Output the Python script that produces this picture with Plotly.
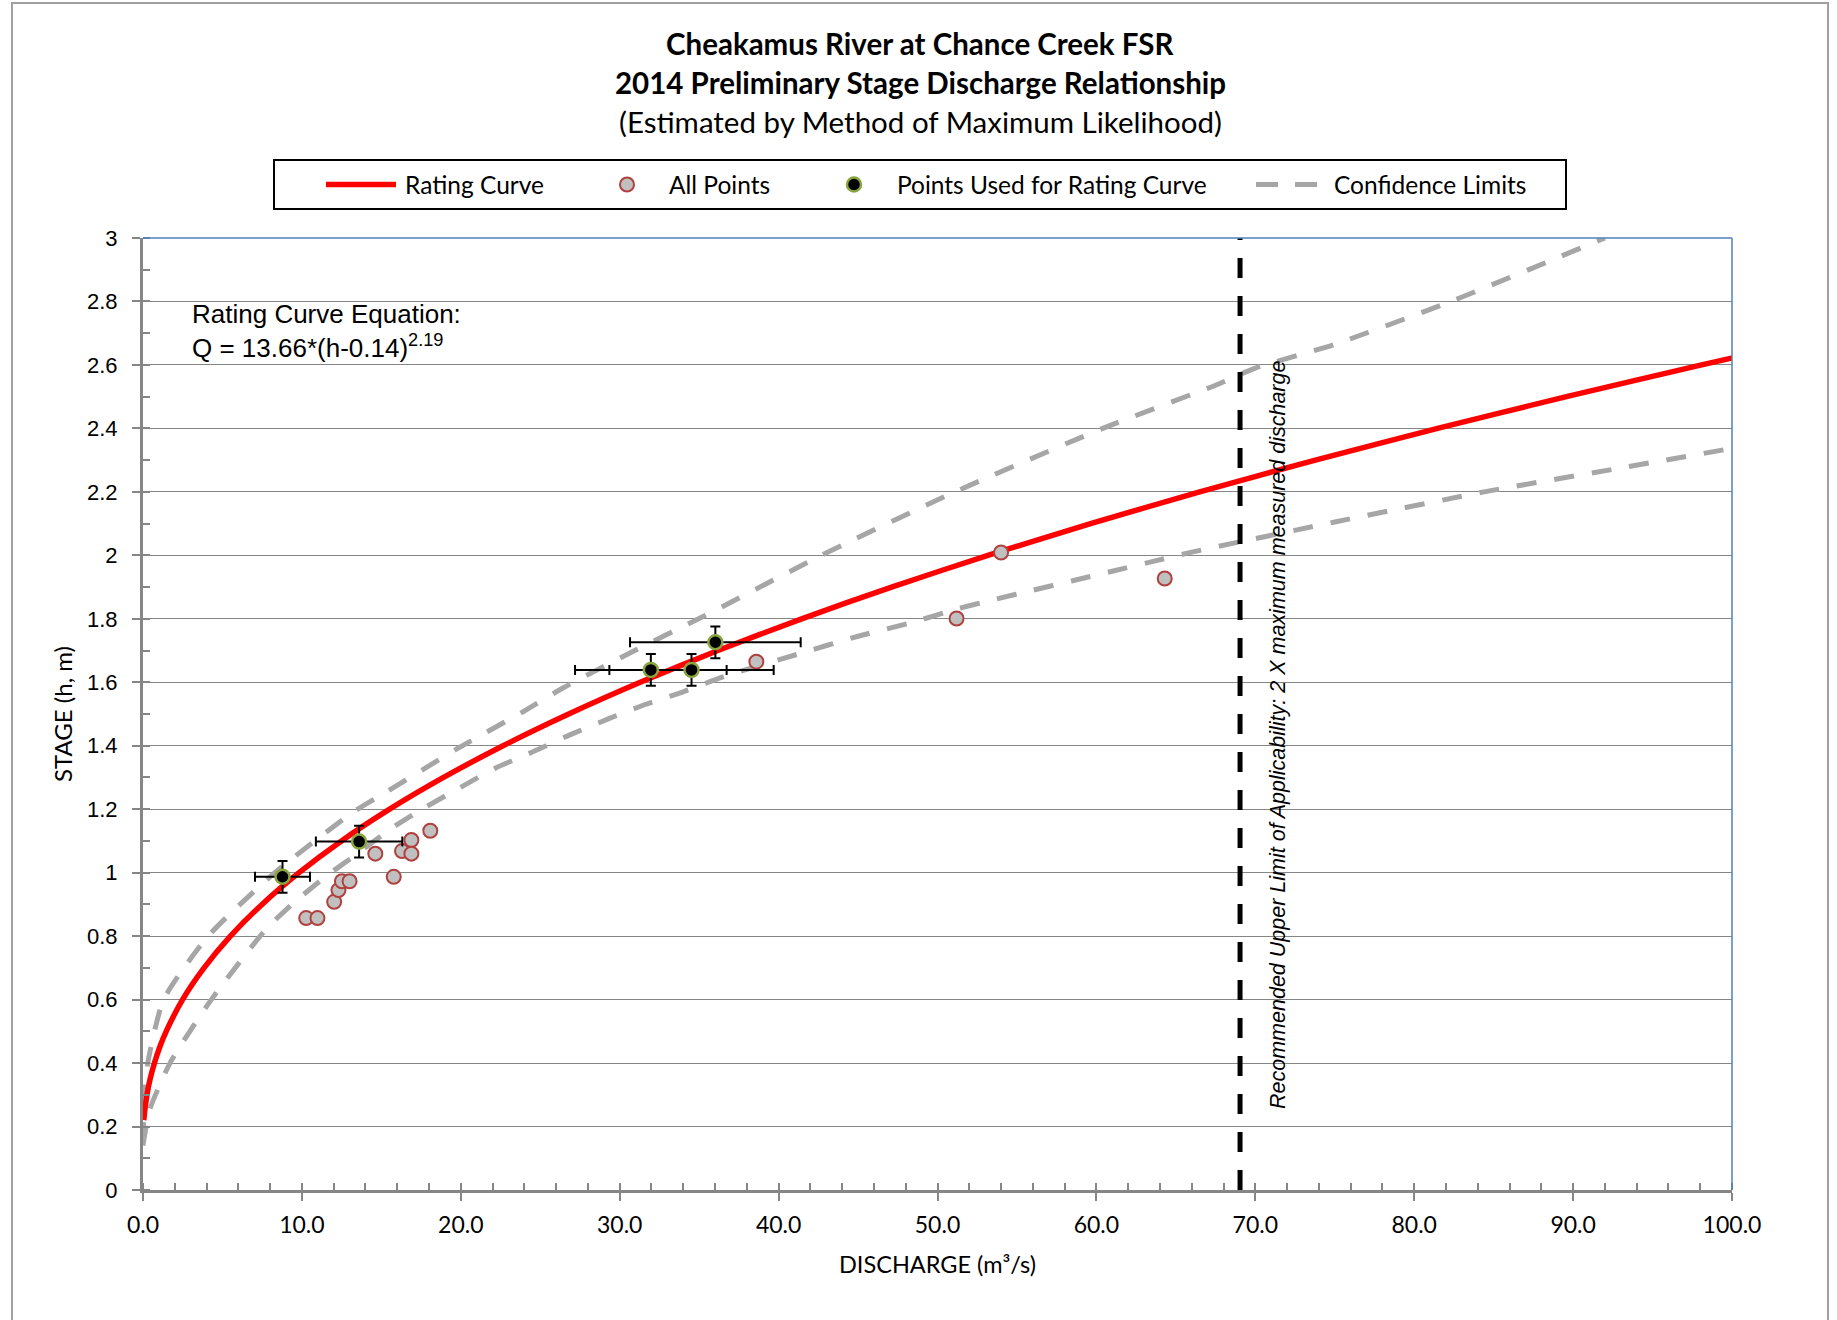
import plotly.graph_objects as go

# ---------------- data ----------------
rating_q = [0.05, 0.11, 0.25, 0.45, 0.72, 1.05, 1.46, 2.49, 3.84, 5.50, 7.49, 9.82, 12.49,
            15.52, 18.91, 22.66, 26.79, 31.29, 36.18, 41.45, 47.11, 53.17, 59.63, 66.50,
            73.78, 81.47, 89.58, 98.09, 100.7]
rating_h = [0.22, 0.25, 0.30, 0.35, 0.40, 0.45, 0.50, 0.60, 0.70, 0.80, 0.90, 1.00, 1.10,
            1.20, 1.30, 1.40, 1.50, 1.60, 1.70, 1.80, 1.90, 2.00, 2.10, 2.20,
            2.30, 2.40, 2.50, 2.60, 2.63]

cl_upper_q = [0.0, 0.1, 0.3, 1.3, 4.1, 8.3, 13.2, 15.4, 19.75, 23.95, 26.4, 30.7, 35.25,
              42.7, 51.1, 60.4, 67.7, 70.0, 75.0, 82.3, 92.0]
cl_upper_h = [0.15, 0.30, 0.40, 0.60, 0.80, 1.00, 1.19, 1.257, 1.39, 1.508, 1.581, 1.694, 1.807,
              2.00, 2.20, 2.40, 2.54, 2.59, 2.665, 2.80, 3.00]

cl_lower_q = [0.0, 0.4, 1.7, 4.3, 7.8, 9.6, 11.55, 13.5, 15.65, 17.8, 19.95, 22.2, 24.5,
              26.9, 29.2, 31.6, 34.0, 36.5, 41.3, 45.0, 48.5, 51.0, 53.5, 56.0, 58.5,
              61.0, 63.5, 66.0, 75.0, 84.4, 93.2, 100.0]
cl_lower_h = [0.14, 0.25, 0.40, 0.60, 0.825, 0.91, 0.99, 1.06, 1.14, 1.207, 1.268, 1.33, 1.38,
              1.435, 1.483, 1.53, 1.57, 1.617, 1.69, 1.745, 1.79, 1.828, 1.86, 1.89, 1.92,
              1.95, 1.98, 2.01, 2.105, 2.20, 2.277, 2.337]

all_q = [10.27, 10.98, 12.03, 12.30, 12.52, 13.00, 14.62, 15.78, 16.30, 16.89, 16.89, 18.08,
         38.60, 51.20, 54.00, 64.30]
all_h = [0.857, 0.857, 0.908, 0.945, 0.973, 0.973, 1.060, 0.987, 1.068, 1.103, 1.060, 1.132,
         1.665, 1.801, 2.009, 1.927]

used_q = [8.78, 13.60, 31.96, 34.52, 36.02]
used_h = [0.987, 1.098, 1.639, 1.639, 1.726]
used_q_err = [1.73, 2.72, 4.77, 5.17, 5.37]
used_h_err = [0.05, 0.05, 0.05, 0.05, 0.05]

upper_limit_q = 69.04   # 2 X maximum measured discharge
limit_h = [0, 3]

x_ticks = [0, 10, 20, 30, 40, 50, 60, 70, 80, 90, 100]

# ---------------- styling ----------------
GRID = "#868686"
CAL = "Lato"
ARIAL = "Liberation Sans"

fig = go.Figure()

fig.add_trace(go.Scatter(x=cl_upper_q, y=cl_upper_h, mode="lines", name="Confidence Limits",
                         line=dict(color="#a6a6a6", width=5, dash="20px,18px", shape="spline",
                                   smoothing=0.6), showlegend=False))
fig.add_trace(go.Scatter(x=cl_lower_q, y=cl_lower_h, mode="lines", name="Confidence Limits",
                         line=dict(color="#a6a6a6", width=5, dash="20px,18px", shape="spline",
                                   smoothing=0.6), showlegend=False))
fig.add_trace(go.Scatter(x=rating_q, y=rating_h, mode="lines", name="Rating Curve",
                         line=dict(color="#ff0000", width=5.5, shape="spline", smoothing=0.6),
                         showlegend=False))
fig.add_trace(go.Scatter(x=[upper_limit_q, upper_limit_q], y=limit_h, mode="lines",
                         name="Upper limit", line=dict(color="black", width=5, dash="20px,18px"),
                         showlegend=False))
fig.add_trace(go.Scatter(x=all_q, y=all_h, mode="markers", name="All Points",
                         marker=dict(size=14, color="#c0c0c0",
                                     line=dict(color="#b0413e", width=2)),
                         showlegend=False))
fig.add_trace(go.Scatter(x=used_q, y=used_h, mode="markers", name="Points Used for Rating Curve",
                         marker=dict(size=14, color="black",
                                     line=dict(color="#8aa43f", width=2.5)),
                         error_x=dict(type="data", array=used_q_err, color="black",
                                      thickness=2, width=5),
                         error_y=dict(type="data", array=used_h_err, color="black",
                                      thickness=2, width=5),
                         showlegend=False))

# plot area: x 143..1732 px, y 238..1190 px
L, R, T, B = 143, 105, 238, 130
W, H = 1837, 1320
PW, PH = W - L - R, H - T - B


def px(xp):
    return (xp - L) / PW


def py(yp):
    return (H - B - yp) / PH


annotations = []
# titles
annotations.append(dict(text="<b>Cheakamus River at Chance Creek FSR</b>", x=px(920), y=py(43),
                        font=dict(family=CAL, size=29.5, color="black")))
annotations.append(dict(text="<b>2014 Preliminary Stage Discharge Relationship</b>", x=px(920),
                        y=py(83), font=dict(family=CAL, size=29.5, color="black")))
annotations.append(dict(text="(Estimated by Method of Maximum Likelihood)", x=px(920), y=py(122),
                        font=dict(family=CAL, size=29.5, color="black")))
for a in annotations:
    a.update(xref="paper", yref="paper", showarrow=False, xanchor="center", yanchor="middle")

legend_y = py(184.5)
leg_items = [("Rating Curve", 403), ("All Points", 667), ("Points Used for Rating Curve", 895),
             ("Confidence Limits", 1332)]
for txt, xp in leg_items:
    annotations.append(dict(text=txt, x=px(xp), y=legend_y, xref="paper", yref="paper",
                            showarrow=False, xanchor="left", yanchor="middle",
                            font=dict(family=CAL, size=24.5, color="black")))

# equation (one two-line text block)
annotations.append(dict(text="Rating Curve Equation:<br>Q = 13.66*(h-0.14)<sup>2.19</sup>",
                        x=px(190), y=py(331), xref="paper", yref="paper", showarrow=False,
                        xanchor="left", yanchor="middle", align="left",
                        font=dict(family=ARIAL, size=26, color="black")))

# vertical limit note
annotations.append(dict(text="<i>Recommended Upper Limit of Applicability: 2 X maximum measured discharge</i>",
                        x=px(1278), y=py(735), xref="paper", yref="paper", showarrow=False,
                        textangle=-90, xanchor="center", yanchor="middle",
                        font=dict(family=ARIAL, size=21.5, color="black")))

# axis titles
annotations.append(dict(text="DISCHARGE (m³/s)", x=px(937), y=py(1264), xref="paper",
                        yref="paper", showarrow=False, xanchor="center", yanchor="middle",
                        font=dict(family=CAL, size=23.5, color="black")))
annotations.append(dict(text="STAGE (h, m)", x=px(62), y=py(714), xref="paper", yref="paper",
                        showarrow=False, textangle=-90, xanchor="center", yanchor="middle",
                        font=dict(family=CAL, size=24, color="black")))

shapes = []
# outer chart border
shapes.append(dict(type="rect", xref="paper", yref="paper", x0=px(12), x1=px(1828),
                   y0=py(1340), y1=py(3), line=dict(color="#a0a0a0", width=2),
                   fillcolor="rgba(0,0,0,0)", layer="below"))
# plot area top / right border (blue)
shapes.append(dict(type="line", xref="paper", yref="paper", x0=0, x1=1, y0=1, y1=1,
                   line=dict(color="#4f81bd", width=1.5)))
shapes.append(dict(type="line", xref="paper", yref="paper", x0=1, x1=1, y0=0, y1=1,
                   line=dict(color="#4f81bd", width=1.5)))
# legend box
shapes.append(dict(type="rect", xref="paper", yref="paper", x0=px(274), x1=px(1566),
                   y0=py(209), y1=py(160), line=dict(color="black", width=2),
                   fillcolor="white"))
shapes.append(dict(type="line", xref="paper", yref="paper", x0=px(326), x1=px(396),
                   y0=legend_y, y1=legend_y, line=dict(color="#ff0000", width=5.5)))
shapes.append(dict(type="circle", xref="paper", yref="paper", xsizemode="pixel",
                   ysizemode="pixel", xanchor=px(627), yanchor=legend_y, x0=-7, x1=7,
                   y0=-7, y1=7, fillcolor="#c0c0c0", line=dict(color="#b0413e", width=2)))
shapes.append(dict(type="circle", xref="paper", yref="paper", xsizemode="pixel",
                   ysizemode="pixel", xanchor=px(854), yanchor=legend_y, x0=-7, x1=7,
                   y0=-7, y1=7, fillcolor="black", line=dict(color="#8aa43f", width=2.5)))
shapes.append(dict(type="line", xref="paper", yref="paper", x0=px(1256), x1=px(1318),
                   y0=legend_y, y1=legend_y,
                   line=dict(color="#a6a6a6", width=5, dash="22px,17px")))

fig.update_layout(
    width=W, height=H,
    margin=dict(l=L, r=R, t=T, b=B, pad=0),
    paper_bgcolor="white", plot_bgcolor="white",
    showlegend=False,
    annotations=annotations,
    shapes=shapes,
    xaxis=dict(range=[0, 100], tickvals=x_ticks, tickformat=".1f", ticks="outside",
               ticklen=8, tickwidth=1.5, tickcolor=GRID, showline=True, linecolor=GRID,
               linewidth=3, showgrid=False, zeroline=False, ticklabelstandoff=4,
               tickfont=dict(family=CAL, size=23, color="black"),
               minor=dict(ticks="inside", dtick=2, ticklen=7, tickcolor=GRID, tickwidth=1.5,
                          showgrid=False)),
    yaxis=dict(range=[0, 3], dtick=0.2, ticks="outside", ticklen=8, tickwidth=1.5,
               tickcolor=GRID, showline=True, linecolor=GRID, linewidth=3, showgrid=True,
               gridcolor=GRID, gridwidth=1.3, zeroline=False, ticklabelstandoff=10,
               tickfont=dict(family=ARIAL, size=22, color="black"),
               minor=dict(ticks="inside", dtick=0.1, ticklen=7, tickcolor=GRID, tickwidth=1.5,
                          showgrid=False)),
)

fig.write_html("out.html", config={"displayModeBar": False},
               post_script="document.body.style.margin='0';")
